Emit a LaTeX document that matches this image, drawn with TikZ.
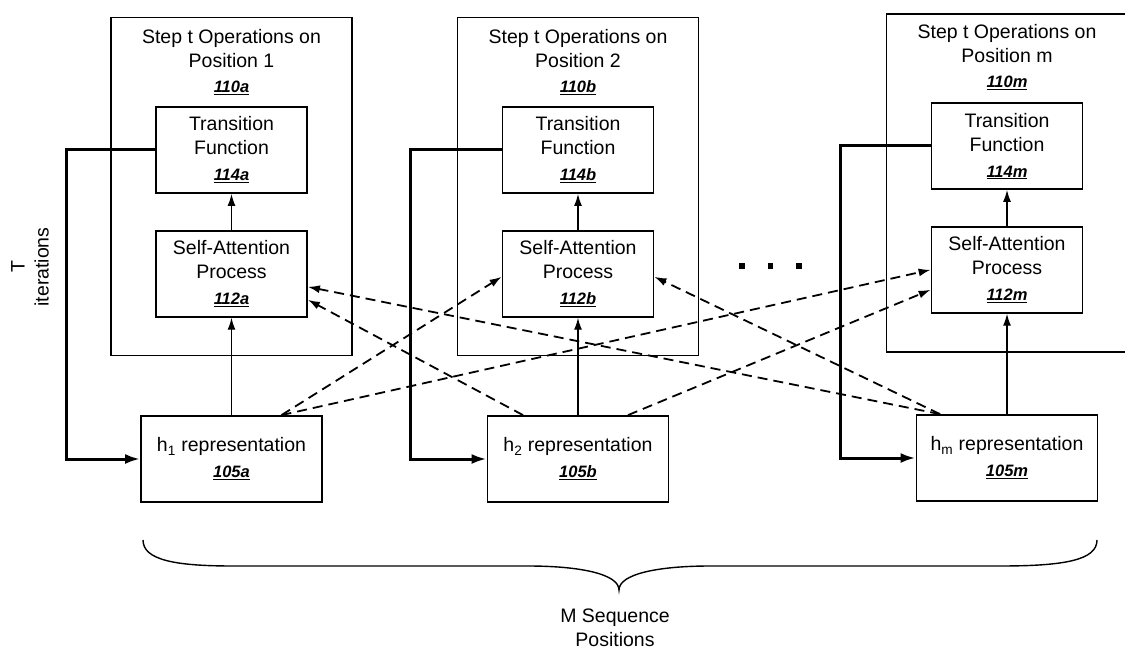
\documentclass[tikz,border=0pt]{standalone}
\usepackage{fontspec}
\setmainfont{Liberation Sans}
\usepackage{tikz}
\usetikzlibrary{arrows.meta, positioning}
\newcommand{\partno}[1]{{\fontsize{16.5}{20}\selectfont\bfseries\itshape\underline{#1}}}
\tikzset{
  opbox/.style={rectangle, draw=black, line width=1.6pt,
    minimum width=241pt, minimum height=338pt, inner sep=0pt},
  optitle/.style={align=center, inner sep=0pt,
    font=\fontsize{19.5}{24}\selectfont},
  fnbox/.style={rectangle, draw=black, line width=1.8pt,
    minimum width=151pt, minimum height=86pt, align=center, inner sep=0pt,
    font=\fontsize{19.5}{24}\selectfont},
  repbox/.style={rectangle, draw=black, line width=1.8pt,
    minimum width=181pt, minimum height=86pt, align=center, inner sep=0pt,
    font=\fontsize{19.5}{24}\selectfont},
  dotsq/.style={rectangle, fill=black, minimum size=5.5pt, inner sep=0pt},
  arrow/.style={-{Latex[length=12pt, width=8pt]}, line width=1.4pt},
  loopback/.style={-{Latex[length=15pt, width=10pt]}, line width=3pt},
  attn/.style={-{Latex[length=12pt, width=8pt]}, line width=1.8pt,
    dash pattern=on 10pt off 6pt}
}

\begin{document}
\begin{tikzpicture}[x=1pt, y=-1pt, node distance=36pt and 40pt]
  \useasboundingbox (0,0) rectangle (1125,650);
  \node[opbox] (op1) at (231.5,186.5) {};
  \node[opbox] (op2) at (578,186.5) {};
  \node[opbox] (opm) at (1007,183) {};
  \node[optitle] (ttl1) at (231.5,62.5) {Step t Operations on\\Position 1\\[1pt]\partno{110a}};
  \node[optitle] (ttl2) at (578,62.5) {Step t Operations on\\Position 2\\[1pt]\partno{110b}};
  \node[optitle] (ttlm) at (1007,57.5) {Step t Operations on\\Position m\\[1pt]\partno{110m}};
  \node[fnbox] (tf1) at (231.5,150) {Transition\\Function\\[2pt]\partno{114a}};
  \node[fnbox] (tf2) at (578,150) {Transition\\Function\\[2pt]\partno{114b}};
  \node[fnbox] (tfm) at (1007,146) {Transition\\Function\\[2pt]\partno{114m}};
  \node[fnbox, below=of tf1] (sa1) {Self-Attention\\Process\\[2pt]\partno{112a}};
  \node[fnbox, below=of tf2] (sa2) {Self-Attention\\Process\\[2pt]\partno{112b}};
  \node[fnbox, below=of tfm] (sam) {Self-Attention\\Process\\[2pt]\partno{112m}};
  \node[repbox] (h1) at (231.5,459) {h\textsubscript{1} representation\\[2pt]\partno{105a}};
  \node[repbox] (h2) at (578,459) {h\textsubscript{2} representation\\[2pt]\partno{105b}};
  \node[repbox] (hm) at (1007,458) {h\textsubscript{m} representation\\[2pt]\partno{105m}};
  \node[dotsq] (dt1) at (742,266) {};
  \node[dotsq, right=22.5pt of dt1] (dt2) {};
  \node[dotsq, right=22.5pt of dt2] (dt3) {};
  \node[optitle, rotate=90] (iter) at (30,267) {T\\iterations};
  \node[optitle] (mseq) at (615,628) {M Sequence\\Positions};
  \draw[arrow] (h1) -- (sa1);
  \draw[arrow] (sa1) -- (tf1);
  \draw[arrow] (h2) -- (sa2);
  \draw[arrow] (sa2) -- (tf2);
  \draw[arrow] (hm) -- (sam);
  \draw[arrow] (sam) -- (tfm);
  \draw[loopback] (tf1.west) -- ++(-89,0) |- (h1.west);
  \draw[loopback] (tf2.west) -- ++(-91,0) |- (h2.west);
  \draw[loopback] (tfm.west) -- ++(-90,0) |- (hm.west);
  \draw[attn] ([xshift=50pt]h1.north) -- ([yshift=-3pt]sa2.west);
  \draw[attn] ([xshift=50pt]h1.north) -- (sam.west);
  \draw[attn] ([xshift=-55pt]h2.north) -- ([yshift=-26pt]sa1.east);
  \draw[attn] ([xshift=50pt]h2.north) -- ([yshift=-20pt]sam.west);
  \draw[attn] ([xshift=-67pt]hm.north) -- ([yshift=-13pt]sa1.east);
  \draw[attn] ([xshift=-67pt]hm.north) -- ([yshift=-3pt]sa2.east);
  \draw[line width=1.4pt] (143,540) .. controls (143,560) and (175,566) .. (233,566)
    -- (528,566) .. controls (580,566) and (619,574) .. (619,590)
    .. controls (619,574) and (658,566) .. (710,566)
    -- (1000,566) .. controls (1065,566) and (1097,560) .. (1097,540);
\end{tikzpicture}
\end{document}
